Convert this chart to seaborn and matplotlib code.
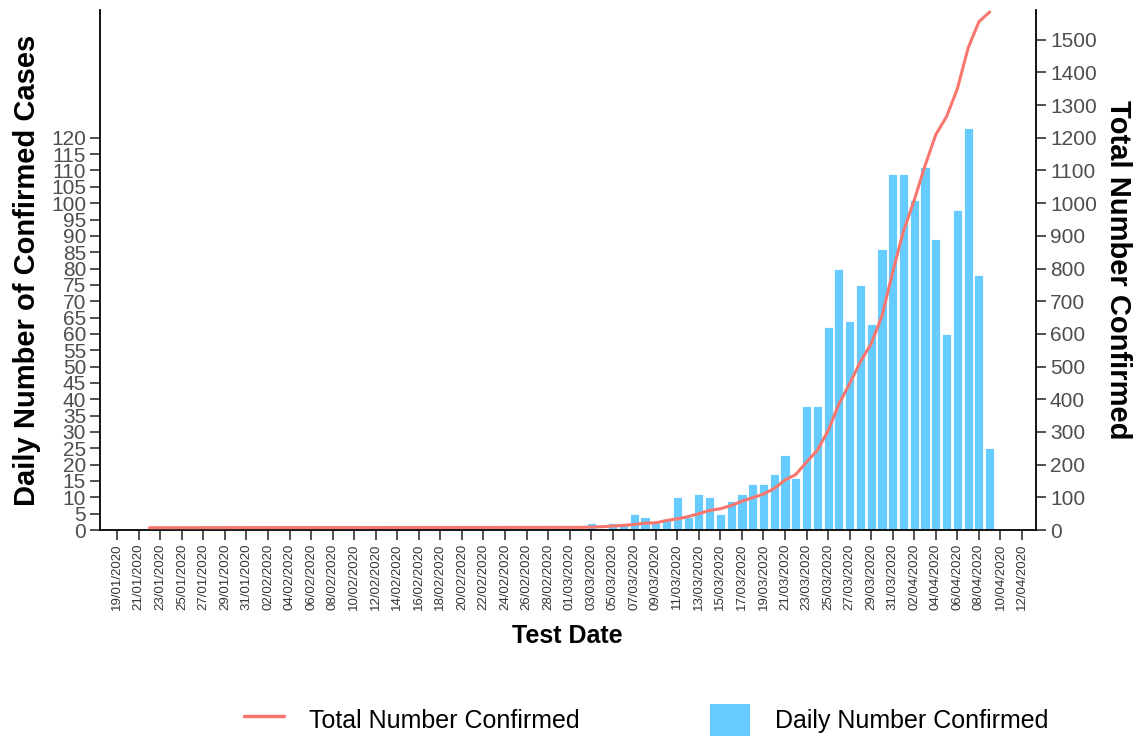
import numpy as np
import pandas as pd
import matplotlib
matplotlib.use("Agg")
import matplotlib.pyplot as plt
import seaborn as sns
from matplotlib.lines import Line2D
from matplotlib.patches import Patch

# ---------------- data ----------------
bar_dates = ["03/03/2020", "04/03/2020", "05/03/2020", "06/03/2020", "07/03/2020",
             "08/03/2020", "09/03/2020", "10/03/2020", "11/03/2020", "12/03/2020",
             "13/03/2020", "14/03/2020", "15/03/2020", "16/03/2020", "17/03/2020",
             "18/03/2020", "19/03/2020", "20/03/2020", "21/03/2020", "22/03/2020",
             "23/03/2020", "24/03/2020", "25/03/2020", "26/03/2020", "27/03/2020",
             "28/03/2020", "29/03/2020", "30/03/2020", "31/03/2020", "01/04/2020",
             "02/04/2020", "03/04/2020", "04/04/2020", "05/04/2020", "06/04/2020",
             "07/04/2020", "08/04/2020", "09/04/2020"]
daily_cases = [2, 0, 2, 2, 5,
               4, 2, 3, 10, 4,
               11, 10, 5, 9, 11,
               14, 14, 17, 23, 16,
               38, 38, 62, 80, 64,
               75, 63, 86, 109, 109,
               101, 111, 89, 60, 98,
               123, 78, 25]

total_dates = ["22/01/2020", "01/03/2020", "02/03/2020", "03/03/2020", "04/03/2020",
               "05/03/2020", "06/03/2020", "07/03/2020", "08/03/2020", "09/03/2020",
               "10/03/2020", "11/03/2020", "12/03/2020", "13/03/2020", "14/03/2020",
               "15/03/2020", "16/03/2020", "17/03/2020", "18/03/2020", "19/03/2020",
               "20/03/2020", "21/03/2020", "22/03/2020", "23/03/2020", "24/03/2020",
               "25/03/2020", "26/03/2020", "27/03/2020", "28/03/2020", "29/03/2020",
               "30/03/2020", "31/03/2020", "01/04/2020", "02/04/2020", "03/04/2020",
               "04/04/2020", "05/04/2020", "06/04/2020", "07/04/2020", "08/04/2020",
               "09/04/2020"]
total_cases = [7, 8, 8, 9, 10,
               12, 14, 17, 21, 22,
               29, 34, 41, 50, 60,
               65, 75, 88, 99, 110,
               127, 153, 170, 208, 244,
               304, 385, 448, 515, 570,
               655, 790, 915, 1010, 1115,
               1210, 1265, 1350, 1475, 1555,
               1585]

tick_labels = ["19/01/2020", "21/01/2020", "23/01/2020", "25/01/2020", "27/01/2020",
               "29/01/2020", "31/01/2020", "02/02/2020", "04/02/2020", "06/02/2020",
               "08/02/2020", "10/02/2020", "12/02/2020", "14/02/2020", "16/02/2020",
               "18/02/2020", "20/02/2020", "22/02/2020", "24/02/2020", "26/02/2020",
               "28/02/2020", "01/03/2020", "03/03/2020", "05/03/2020", "07/03/2020",
               "09/03/2020", "11/03/2020", "13/03/2020", "15/03/2020", "17/03/2020",
               "19/03/2020", "21/03/2020", "23/03/2020", "25/03/2020", "27/03/2020",
               "29/03/2020", "31/03/2020", "02/04/2020", "04/04/2020", "06/04/2020",
               "08/04/2020", "10/04/2020", "12/04/2020"]

left_ticks = list(range(0, 121, 5))
right_ticks = list(range(0, 1501, 100))

# ---------------- helpers ----------------
origin = pd.Timestamp("2020-01-19")
def to_day(lst):
    return [(pd.to_datetime(s, format="%d/%m/%Y") - origin).days for s in lst]

bars = pd.DataFrame({"day": to_day(bar_dates), "daily": daily_cases})
tot = pd.DataFrame({"day": to_day(total_dates), "total": total_cases})
tick_pos = to_day(tick_labels)

BLUE = "#66CCFF"
RED = "#F8766D"
GREY = "#4D4D4D"

sns.set_style("ticks")
plt.rcParams["font.family"] = ["Liberation Sans", "DejaVu Sans"]

fig = plt.figure(figsize=(11.39, 7.38), dpi=100)
ax = fig.add_axes([100 / 1139, 1 - 530 / 738, 936 / 1139, 520 / 738])

sns.barplot(data=bars, x="day", y="daily", native_scale=True, ax=ax,
            color=BLUE, saturation=1, width=0.85, edgecolor="white",
            linewidth=0.6, errorbar=None)

ax2 = ax.twinx()
sns.lineplot(data=tot, x="day", y="total", ax=ax2, color=RED, linewidth=2.2)

ax.set_xlim(-1.6, 85.3)
ax.set_ylim(0, 159.1)
ax2.set_ylim(0, 1591)

ax.set_xticks(tick_pos)
ax.set_xticklabels(tick_labels, rotation=90, fontsize=9.5, color="#333333")
ax.set_yticks(left_ticks)
ax.set_yticklabels([str(v) for v in left_ticks], fontsize=15, color=GREY)
ax2.set_yticks(right_ticks)
ax2.set_yticklabels([str(v) for v in right_ticks], fontsize=15, color=GREY)

ax.tick_params(axis="both", length=7, width=1.1, color="#222222", pad=3)
ax2.tick_params(axis="y", length=7, width=1.1, color="#222222", pad=3)

for s in ["top", "right"]:
    ax.spines[s].set_visible(False)
for s in ["top", "left", "bottom"]:
    ax2.spines[s].set_visible(False)
for a, s in [(ax, "left"), (ax, "bottom"), (ax2, "right")]:
    a.spines[s].set_linewidth(1.3)
    a.spines[s].set_color("black")

ax.set_ylabel("Daily Number of Confirmed Cases", fontsize=21, fontweight="bold",
              color="black")
ax.yaxis.set_label_coords((41 - 100) / 936, 0.5)
ax2.set_ylabel("Total Number Confirmed", fontsize=21, fontweight="bold",
               rotation=270, va="bottom", color="black")
ax2.yaxis.set_label_coords((1104 - 100) / 936, 0.5)
ax.set_xlabel("Test Date", fontsize=18, fontweight="bold", color="black")
ax.xaxis.set_label_coords((567 - 100) / 936, -(624 - 530) / 520)

handles = [Line2D([0], [0], color=RED, lw=2.5),
           Patch(facecolor=BLUE, edgecolor="none")]
leg = fig.legend(handles=handles, labels=["Total Number Confirmed", "Daily Number Confirmed"],
                 loc="center", bbox_to_anchor=(646 / 1139, 1 - 720 / 738), ncol=2,
                 frameon=False, fontsize=18, handlelength=1.6, handleheight=1.6,
                 handletextpad=1.0, columnspacing=5.2)
for t in leg.get_texts():
    t.set_color("black")

fig.savefig("out.png", dpi=100)
